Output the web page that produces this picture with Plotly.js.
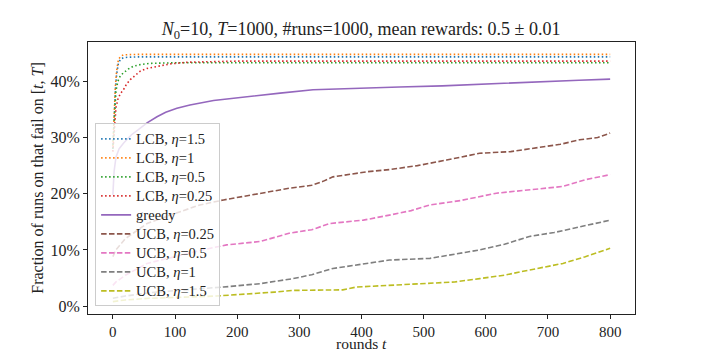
<!DOCTYPE html>
<html>
<head>
<meta charset="utf-8">
<script src="https://cdn.plot.ly/plotly-3.0.1.min.js"></script>
<style>
  body { margin: 0; background: #fff; }
  #chart { width: 706px; height: 353px; }
</style>
</head>
<body>
<div id="chart"></div>
<script>
// values, in percent
let lcb15_t = [0, 1, 2, 4, 6, 9, 13, 17, 25, 40, 100, 800];
let lcb15_y = [28, 31.5, 34.5, 38.3, 41.2, 43.3, 44.0, 44.2, 44.3, 44.35, 44.35, 44.35];

let lcb1_t = [0, 1, 2, 4, 6, 9, 13, 17, 25, 40, 100, 800];
let lcb1_y = [28.5, 32, 35, 39, 41.8, 43.9, 44.5, 44.7, 44.75, 44.8, 44.8, 44.8];

let lcb05_t = [0, 1, 2, 3, 5, 8, 12, 17, 25, 33, 45, 60, 100, 200, 800];
let lcb05_y = [28, 30.5, 33, 35, 38.3, 40, 41, 41.5, 42.2, 42.7, 43, 43.2, 43.3, 43.3, 43.3];

let lcb025_t = [0, 1, 2, 3, 5, 8, 12, 17, 22, 28, 36, 44, 55, 71, 92, 120, 200, 800];
let lcb025_y = [27.5, 29.5, 31.5, 33, 35.3, 36.8, 37.8, 38.5, 39.5, 40.3, 41.1, 41.8, 42.3, 42.7, 43.1, 43.4, 43.6, 43.6];

let greedy_t = [0, 2, 5, 10, 17, 30, 41, 55, 71, 85, 103, 124, 162, 215, 269, 322, 392, 461, 530, 590, 650, 697, 750, 800];
let greedy_y = [19.8, 24, 26.5, 28, 29, 30.5, 31.4, 32.6, 33.7, 34.5, 35.2, 35.8, 36.6, 37.3, 37.9, 38.5, 38.8, 39.0, 39.2, 39.5, 39.7, 40.0, 40.2, 40.4];

let ucb025_t = [0, 5, 20, 55, 100, 140, 178, 237, 285, 320, 338, 354, 408, 445, 490, 537, 590, 640, 686, 720, 751, 780, 800];
let ucb025_y = [8.8, 10, 12, 14.7, 16.5, 18, 18.9, 20.1, 21.0, 21.5, 22.2, 23.0, 23.9, 24.3, 25.0, 26.0, 27.2, 27.5, 28.3, 28.8, 29.6, 30.0, 30.8];

let ucb05_t = [0, 5, 20, 55, 100, 140, 183, 237, 285, 320, 349, 403, 445, 480, 510, 560, 617, 670, 724, 760, 800];
let ucb05_y = [3.7, 4.3, 5.5, 7.6, 8.8, 9.9, 10.9, 11.5, 13.0, 13.6, 14.7, 15.3, 16.2, 17.0, 18.0, 18.8, 20.1, 20.7, 21.3, 22.5, 23.4];

let ucb1_t = [0, 20, 60, 100, 140, 178, 237, 290, 320, 354, 408, 445, 510, 550, 590, 630, 670, 710, 751, 780, 800];
let ucb1_y = [1.4, 1.8, 2.4, 2.8, 3.1, 3.4, 4.0, 4.9, 5.6, 6.7, 7.6, 8.2, 8.5, 9.2, 10.0, 11.0, 12.4, 13.1, 14.1, 14.8, 15.3];

let ucb15_t = [0, 20, 60, 100, 140, 167, 215, 260, 290, 340, 370, 392, 445, 510, 550, 590, 630, 660, 690, 724, 760, 800];
let ucb15_y = [0.8, 1.1, 1.4, 1.6, 1.7, 1.8, 2.1, 2.5, 2.8, 2.9, 2.9, 3.4, 3.7, 4.0, 4.3, 4.9, 5.5, 6.2, 6.8, 7.6, 8.8, 10.3];

let names = [
    "LCB, <i>η</i>=1.5", "LCB, <i>η</i>=1", "LCB, <i>η</i>=0.5", "LCB, <i>η</i>=0.25",
    "greedy",
    "UCB, <i>η</i>=0.25", "UCB, <i>η</i>=0.5", "UCB, <i>η</i>=1", "UCB, <i>η</i>=1.5"
];
let xticks = [0, 100, 200, 300, 400, 500, 600, 700, 800];
let yticks = [0, 10, 20, 30, 40];
let yticklabels = ['0%', '10%', '20%', '30%', '40%'];

let xs = [lcb15_t, lcb1_t, lcb05_t, lcb025_t, greedy_t, ucb025_t, ucb05_t, ucb1_t, ucb15_t];
let ys = [lcb15_y, lcb1_y, lcb05_y, lcb025_y, greedy_y, ucb025_y, ucb05_y, ucb1_y, ucb15_y];
let colors = ['#1f77b4', '#ff7f0e', '#2ca02c', '#d62728', '#9467bd', '#8c564b', '#e377c2', '#7f7f7f', '#bcbd22'];
let dashes = ['1.5px,2.5px', '1.5px,2.5px', '1.5px,2.5px', '1.5px,2.5px', 'solid',
    '5.5px,2.4px', '5.5px,2.4px', '5.5px,2.4px', '5.5px,2.4px'];

let font = 'Times New Roman';

let data = [];
for (let i = 0; i < names.length; i++) {
    data.push({
        x: xs[i],
        y: ys[i],
        // bigger text than the legend font, so rows stay tight
        name: '<span style="font-size:14.5px">' + names[i] + '</span>',
        mode: 'lines',
        type: 'scatter',
        line: { color: colors[i], width: 1.6, dash: dashes[i] },
    });
}

let layout = {
    width: 706,
    height: 353,
    margin: { l: 88, r: 71, t: 42, b: 39 },
    paper_bgcolor: 'white',
    plot_bgcolor: 'white',
    font: { family: font, size: 16, color: '#222' },
    title: {
        text: '<i>N</i><sub>0</sub>=10, <i>T</i>=1000, #runs=1000, mean rewards: 0.5 ± 0.01',
        x: 0.5115, xanchor: 'center',
        y: 0.918, yanchor: 'middle',
        font: { family: font, size: 18, color: '#222' },
    },
    xaxis: {
        range: [-40, 840],
        tickvals: xticks,
        ticks: 'outside', ticklen: 4, tickcolor: '#222',
        tickfont: { family: font, size: 15 },
        showline: true, mirror: true, linecolor: '#222', linewidth: 1,
        showgrid: false, zeroline: false,
        automargin: false,
    },
    yaxis: {
        range: [-1.4, 47.0],
        tickvals: yticks,
        ticktext: yticklabels,
        ticks: 'outside', ticklen: 4, tickcolor: '#222',
        tickfont: { family: font, size: 16 },
        showline: true, mirror: true, linecolor: '#222', linewidth: 1,
        showgrid: false, zeroline: false,
        automargin: false,
        title: { text: 'Fraction of runs on that fail on [<i>t</i>, <i>T</i>]', standoff: 2, font: { family: font, size: 16 } },
    },
    annotations: [{
        text: 'rounds <i>t</i>',
        xref: 'paper', x: 0.5, xanchor: 'center',
        yref: 'paper', y: -0.11, yanchor: 'middle',
        showarrow: false, borderpad: 0,
        font: { family: font, size: 15.5, color: '#222' },
    }],
    legend: {
        x: 0.013, xanchor: 'left',
        y: 0.028, yanchor: 'bottom',
        bgcolor: 'rgba(255,255,255,0.8)',
        bordercolor: '#cccccc', borderwidth: 1,
        font: { family: font, size: 12, color: '#222' },
        tracegroupgap: 0,
    },
    showlegend: true,
};

Plotly.newPlot('chart', data, layout, { displayModeBar: false, staticPlot: true });
</script>
</body>
</html>
